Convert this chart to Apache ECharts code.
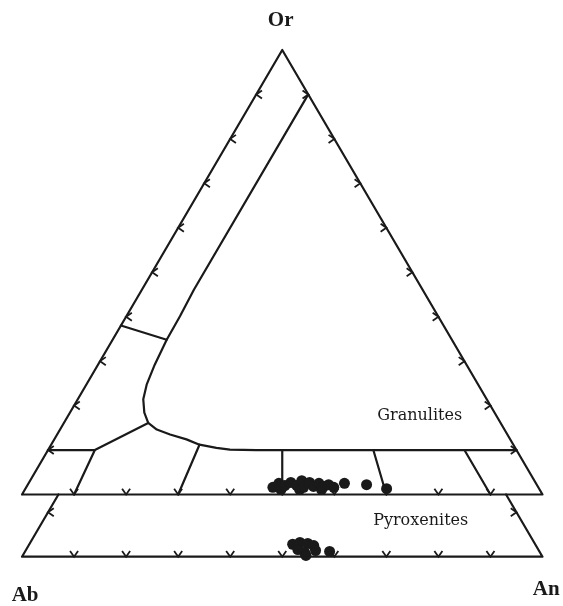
<!DOCTYPE html>
<html>
<head>
<meta charset="utf-8">
<script src="https://cdn.jsdelivr.net/npm/echarts@6/dist/echarts.min.js"></script>
<style>
  html, body { margin: 0; padding: 0; background: #ffffff; }
  #chart { width: 563px; height: 606px; }
</style>
</head>
<body>
<div id="chart"></div>
<script>
// Feldspar ternary diagram Or–Ab–An. Compositions are [An %, Or %]; Ab is the remainder.

const cornerNames = ['Or', 'Ab', 'An'];
const fieldNames = ['Granulites', 'Pyroxenites'];

// Feldspar analyses, granulites
const granuliteAn = [47.4, 48.1, 49.2, 49.5, 50.3, 51.8, 52.2, 52.8, 53.3, 53.9, 55.1, 55.8, 57.0, 57.1, 57.8, 59.1, 60.7, 65.1, 69.4];
const granuliteOr = [1.6, 2.5, 1.1, 2.0, 2.7, 2.0, 3.1, 1.1, 1.6, 2.7, 1.8, 2.5, 1.1, 1.8, 2.2, 1.6, 2.5, 2.2, 1.3];

// Feldspar analyses, pyroxenites
const pyroxeniteAn = [50.6, 51.8, 52.2, 53.4, 54.8, 55.7, 53.8, 54.4, 58.5];
const pyroxeniteOr = [2.8, 3.2, 1.6, 3.0, 2.5, 1.4, 1.0, 0.3, 1.2];

// Tick marks every 10 %
const tickSteps = [10, 20, 30, 40, 50, 60, 70, 80, 90];

// Field boundaries, as An % and Or % vertices
const solvusAn = [10, 10.0, 10.3, 10.4, 10.9, 11.6, 12.6, 14.3, 16.2, 18.6, 21.7, 25.4, 28.5, 32.1, 34.9, 40, 90];
const solvusOr = [90, 46.1, 40.1, 34.8, 29.2, 24.7, 21.4, 18.4, 16.1, 14.6, 13.5, 12.4, 11.2, 10.5, 10.1, 10, 10];
const sanidineAn = [0, 10.4];          // Or-rich split off the An 10 line
const sanidineOr = [38, 34.8];
const alkaliAn = [0, 9, 16.2];         // anorthoclase / albite corner
const alkaliOr = [10, 10, 16.1];
const albiteAn = [9, 10];
const albiteOr = [10, 0];
// Plagioclase divisions An30, An50, An70, An90 (base end, top end)
const plagBaseAn = [30, 50, 70, 90];
const plagTopAn = [28.5, 45, 62.5, 80];
const plagTopOr = [11.2, 10, 10, 10];

// The pyroxenite strip is the Or 0–14 slice of a second triangle, dropped below the first
const stripTopOr = 14;

const INK = '#1a1a1a';

// Ternary composition -> plot plane (base = 100 units, height in Or %)
function toXY(an, or, drop) {
  return [an + or / 2, or - (drop || 0)];
}
function path(anArr, orArr, drop) {
  return anArr.map((a, i) => toXY(a, orArr[i], drop));
}
function line(points) {
  return {
    type: 'line',
    data: points,
    showSymbol: false,
    silent: true,
    animation: false,
    lineStyle: { color: INK, width: 2.2, cap: 'round', join: 'round' },
    z: 2
  };
}

const lineSeries = [];
// Granulite triangle
lineSeries.push(line(path([0, 100, 0, 0], [0, 0, 100, 0])));
lineSeries.push(line(path(solvusAn, solvusOr)));
lineSeries.push(line(path(sanidineAn, sanidineOr)));
lineSeries.push(line(path(alkaliAn, alkaliOr)));
lineSeries.push(line(path(albiteAn, albiteOr)));
plagBaseAn.forEach((b, i) => {
  lineSeries.push(line(path([b, plagTopAn[i]], [0, plagTopOr[i]])));
});
// Pyroxenite strip
lineSeries.push(line(path([0, 0, 100, 100 - stripTopOr], [stripTopOr, 0, 0, stripTopOr], stripTopOr)));

// Tick marks: [x, y, inward direction in degrees]
const ticks = [];
tickSteps.forEach(k => {
  ticks.push(toXY(k, 0).concat(-90));
  ticks.push(toXY(0, k).concat(0));
  ticks.push(toXY(100 - k, k).concat(180));
  ticks.push(toXY(k, 0, stripTopOr).concat(-90));
});
ticks.push(toXY(0, 10, stripTopOr).concat(0));
ticks.push(toXY(90, 10, stripTopOr).concat(180));

const tickSeries = {
  type: 'custom',
  coordinateSystem: 'cartesian2d',
  silent: true,
  animation: false,
  encode: { x: 0, y: 1 },
  data: ticks,
  z: 3,
  renderItem: function (params, api) {
    const p = api.coord([api.value(0), api.value(1)]);
    const th = api.value(2) * Math.PI / 180;
    const L = 7, a = 35 * Math.PI / 180;
    return {
      type: 'polyline',
      shape: {
        points: [
          [p[0] + L * Math.cos(th + a), p[1] + L * Math.sin(th + a)],
          [p[0], p[1]],
          [p[0] + L * Math.cos(th - a), p[1] + L * Math.sin(th - a)]
        ]
      },
      style: { stroke: INK, lineWidth: 1.8, fill: null, lineJoin: 'miter' }
    };
  }
};

function dots(anArr, orArr, drop) {
  return {
    type: 'scatter',
    data: path(anArr, orArr, drop),
    symbol: 'circle',
    symbolSize: 11,
    itemStyle: { color: INK, opacity: 1 },
    silent: true,
    animation: false,
    z: 5
  };
}

const cornerFont = { fontFamily: 'Liberation Serif', fontWeight: 'bold', fontSize: 21, color: INK };
const fieldFont = { fontFamily: 'DejaVu Serif', fontWeight: 'normal', fontSize: 16, color: INK };

// Text anchored in plot units; the anchor symbol itself has no size
function textSeries(items) {
  return {
    type: 'scatter',
    symbol: 'circle',
    symbolSize: 0,
    silent: true,
    animation: false,
    clip: false,
    itemStyle: { opacity: 1, color: INK },
    data: items.map(t => ({
      value: t.at,
      label: Object.assign({
        show: true, position: 'inside', formatter: t.text,
        opacity: 1, textBorderWidth: 0
      }, t.font)
    }))
  };
}

const labels = textSeries([
  { text: cornerNames[0], at: [49.7, 106.6], font: cornerFont },
  { text: cornerNames[1], at: [0.6, -22.8], font: cornerFont },
  { text: cornerNames[2], at: [100.7, -21.4], font: cornerFont },
  { text: fieldNames[0], at: [76.4, 17.7], font: fieldFont },
  { text: fieldNames[1], at: [76.6, -6.0], font: fieldFont }
]);

const chart = echarts.init(document.getElementById('chart'), null, { renderer: 'canvas' });
chart.setOption({
  backgroundColor: '#ffffff',
  animation: false,
  grid: { left: 22, top: 32.2, width: 520.5, height: 533.4, containLabel: false },
  xAxis: { type: 'value', min: 0, max: 100, show: false },
  yAxis: { type: 'value', min: -16, max: 104, show: false },
  series: lineSeries.concat([
    tickSeries,
    dots(granuliteAn, granuliteOr),
    dots(pyroxeniteAn, pyroxeniteOr, stripTopOr),
    labels
  ])
});
</script>
</body>
</html>
